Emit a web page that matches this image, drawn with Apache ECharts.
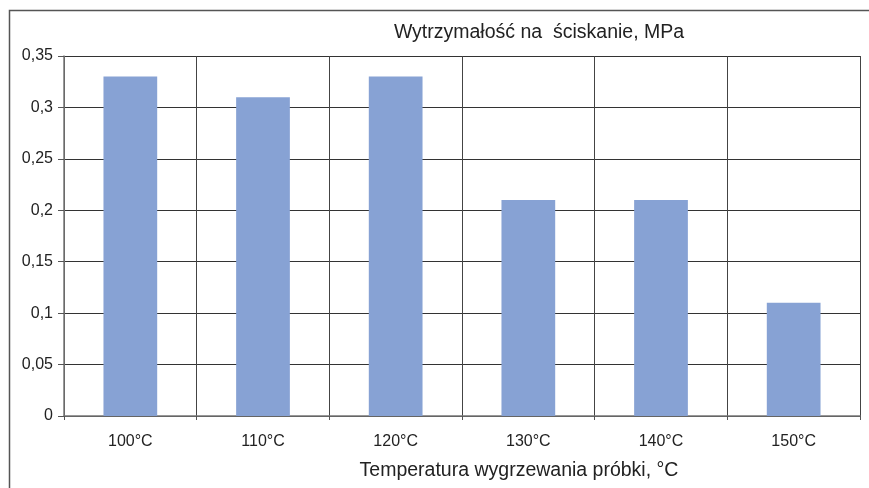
<!DOCTYPE html>
<html><head><meta charset="utf-8">
<script src="https://cdn.jsdelivr.net/npm/echarts@6/dist/echarts.min.js"></script>
<style>html,body{margin:0;padding:0;background:#fff}#c{width:869px;height:488px}</style>
</head><body><div id="c"></div>
<script>
const categories = ['100°C','110°C','120°C','130°C','140°C','150°C'];
const values = [0.33, 0.31, 0.33, 0.21, 0.21, 0.11];
const titleText = 'Wytrzymałość na  ściskanie, MPa';
const xName = 'Temperatura wygrzewania próbki, °C';

const chart = echarts.init(document.getElementById('c'), null, {renderer:'canvas'});
const font = 'Liberation Sans, Arial, sans-serif';
chart.setOption({
  animation:false,
  grid:{left:64, right:9, top:56, bottom:72, containLabel:false},
  graphic:[
    {type:'rect', shape:{x:9.5,y:10.5,width:900,height:520}, style:{fill:'none', stroke:'#555', lineWidth:1.5}, silent:true},
    {type:'text', x:539, y:33, style:{text:titleText, font:'19.5px '+font, fill:'#222', textAlign:'center', textVerticalAlign:'middle'}},
    {type:'text', x:519, y:471, style:{text:xName, font:'19.5px '+font, fill:'#222', textAlign:'center', textVerticalAlign:'middle'}}
  ],
  xAxis:{
    type:'category', data:categories,
    axisLine:{show:true, lineStyle:{color:'#777', width:1.5}},
    axisTick:{show:true, length:4, lineStyle:{color:'#555'}},
    axisLabel:{margin:18, fontSize:16, color:'#222', fontFamily:font},
    splitLine:{show:true, lineStyle:{color:'#444', width:1}}
  },
  yAxis:{
    type:'value', min:0, max:0.35, interval:0.05,
    axisLine:{show:true, lineStyle:{color:'#777', width:1.5}},
    axisTick:{show:true, length:6, lineStyle:{color:'#555'}},
    axisLabel:{margin:11, fontSize:16, color:'#222', fontFamily:font,
      formatter:v=>String(Math.round(v*100)/100).replace('.',',')},
    splitLine:{show:true, lineStyle:{color:'#333', width:1}}
  },
  series:[{type:'bar', data:values, barWidth:'40.5%', itemStyle:{color:'#87a2d4'}}]
});
</script></body></html>
